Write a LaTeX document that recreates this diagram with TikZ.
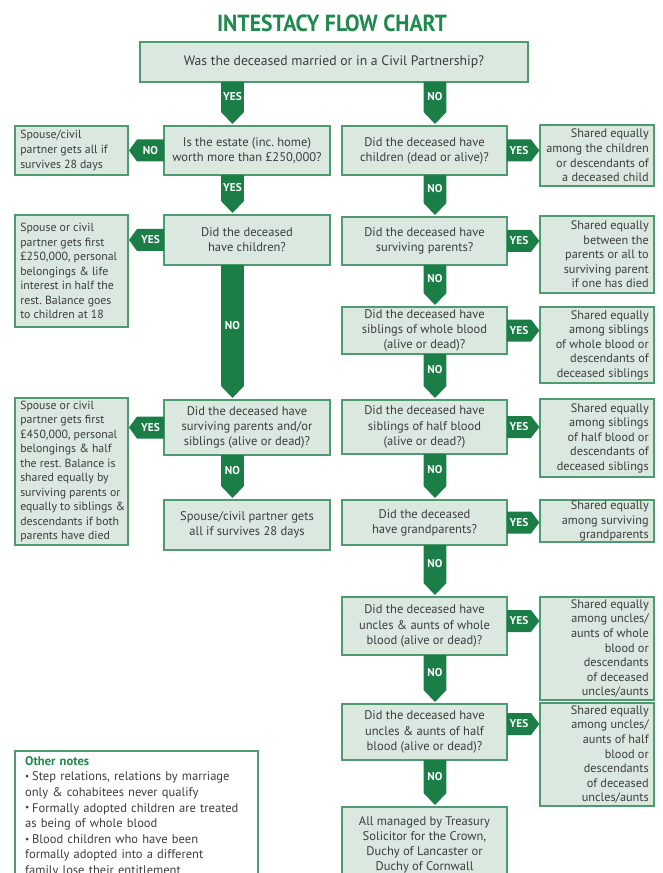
\documentclass[tikz,border=0pt]{standalone}
\usepackage{fontspec}
\setmainfont{PT Sans}
\usetikzlibrary{calc}
\definecolor{boxfill}{HTML}{DAE8DF}
\definecolor{boxline}{HTML}{4E9B70}
\definecolor{arrowc}{HTML}{1B7E47}
\definecolor{titlec}{HTML}{1F8A4D}
\definecolor{txt}{HTML}{3D3D3D}
\tikzset{
  box/.style={draw=boxline, fill=boxfill, line width=0.9pt, inner sep=0pt, outer sep=0pt},
  boxtext/.style={text=txt, inner sep=0pt},
  qfont/.style={font=\frenchspacing\fontsize{9.4}{11.3}\selectfont},
  afont/.style={font=\frenchspacing\fontsize{9.2}{10.9}\selectfont},
  lfont/.style={font=\frenchspacing\fontsize{8.85}{10.9}\selectfont},
  topfont/.style={font=\frenchspacing\fontsize{10.3}{12}\selectfont},
  lab/.style={text=white, inner sep=0pt, font=\bfseries\fontsize{8.5}{9}\selectfont},
  titlestyle/.style={text=titlec, inner sep=0pt, font=\bfseries\fontsize{17.5}{18}\selectfont},
  notesbox/.style={draw=boxline, fill=white, line width=0.9pt, inner xsep=7.5pt, inner ysep=4pt,
    outer sep=0pt, text=txt, font=\frenchspacing\fontsize{9.4}{11.7}\selectfont},
}
% \bx{name}{x0}{y0}{x1}{y1}{l|c|r}{font style}{text}
\newcommand{\bx}[8]{%
  \pgfmathsetmacro{\bxw}{(#4-#2)*0.75}%
  \pgfmathsetmacro{\bxh}{(#5-#3)*0.75}%
  \node[box, minimum width=\bxw pt, minimum height=\bxh pt]
    (#1) at ({(#2+#4)/2},{(#3+#5)/2}) {};
  \if l#6\node[boxtext, #7, align=left, anchor=west] (#1t) at ($(#1.west)+(5,0)$) {#8};\fi
  \if c#6\node[boxtext, #7, align=center] (#1t) at (#1.center) {#8};\fi
  \if r#6\node[boxtext, #7, align=right, anchor=east] (#1t) at ($(#1.east)+(-5,0)$) {#8};\fi}
\newcommand{\darr}[5]{%
  \fill[arrowc] let \p1=(#2.south -| #4), \p2=(#3.north -| #4) in
   (\x1-8.6pt,\y1) -- (\x1+8.6pt,\y1) -- (\x1+8.6pt,\y2+10.5pt) -- (\x1,\y2+1.5pt)
   -- (\x1-8.6pt,\y2+10.5pt) -- cycle
   (\x1,{(\y1+\y2+10.5pt)/2}) node[lab] (#1) {#5};}
\newcommand{\larr}[4]{%
  \fill[arrowc] let \p1=(#2.west), \p2=(#3.east) in
   (\x1,\y1+8.25pt) -- (\x2+6.75pt,\y1+8.25pt) -- (\x2+0.75pt,\y1) -- (\x2+6.75pt,\y1-8.25pt)
   -- (\x1,\y1-8.25pt) -- cycle
   ({(\x1+\x2+6.75pt)/2},\y1) node[lab] (#1) {#4};}
\newcommand{\rarr}[5]{%
  \fill[arrowc] let \p1=($(#2.east)+(0,#5)$), \p2=(#3.west) in
   (\x1,\y1+8.25pt) -- (\x2-6.75pt,\y1+8.25pt) -- (\x2-0.5pt,\y1) -- (\x2-6.75pt,\y1-8.25pt)
   -- (\x1,\y1-8.25pt) -- cycle
   ({(\x1+\x2-6.75pt)/2},\y1) node[lab] (#1) {#4};}
\newcommand{\nbul}{\hangindent=5.25pt\hangafter=1\makebox[5.25pt][l]{\raisebox{0.2ex}{\scriptsize\textbullet}}}
\begin{document}
\begin{tikzpicture}[x=0.75pt,y=-0.75pt]
\useasboundingbox (0,0) rectangle (662,873);
\clip (0,0) rectangle (662,873);
\fill[white] (0,0) rectangle (662,873);
\coordinate (colL) at (232.5,0);
\coordinate (colR) at (435,0);

\node[titlestyle] (title) at (332,23) {\scalebox{0.93}[1]{INTESTACY FLOW CHART}};

\bx{q0}{140}{42}{528}{82}{c}{topfont}{Was the deceased married or in a Civil Partnership?}
\bx{l1}{15}{126}{128}{175}{l}{lfont}{Spouse/civil\\partner gets all if\\survives 28 days}
\bx{c1}{164}{126}{330}{175}{c}{qfont}{Is the estate (inc. home)\\worth more than £250,000?}
\bx{r1}{342}{126}{507}{175}{c}{qfont}{Did the deceased have\\children (dead or alive)?}
\bx{rr1}{540}{125}{654}{186}{r}{afont}{Shared equally\\among the children\\or descendants of\\a deceased child}
\bx{l2}{15}{215}{128}{327}{l}{lfont}{Spouse or civil\\partner gets first\\£250,000, personal\\belongings \& life\\interest in half the\\rest. Balance goes\\to children at 18}
\bx{c2}{164}{215}{330}{265}{c}{qfont}{Did the deceased\\have children?}
\bx{r2}{342}{217}{507}{265}{c}{qfont}{Did the deceased have\\surviving parents?}
\bx{rr2}{540}{216}{654}{293}{r}{afont}{Shared equally\\between the\\parents or all to\\surviving parent\\if one has died}
\bx{r3}{342}{307}{507}{354}{c}{qfont}{Did the deceased have\\siblings of whole blood\\(alive or dead)?}
\bx{rr3}{540}{307}{654}{383}{r}{afont}{Shared equally\\among siblings\\of whole blood or\\descendants of\\deceased siblings}
\bx{l4}{15}{398}{128}{545}{l}{lfont}{Spouse or civil\\partner gets first\\£450,000, personal\\belongings \& half\\the rest. Balance is\\shared equally by\\surviving parents or\\equally to siblings \&\\descendants if both\\parents have died}
\bx{c4}{164}{400}{330}{455}{c}{qfont}{Did the deceased have\\surviving parents and/or\\siblings (alive or dead)?}
\bx{r4}{342}{400}{507}{454}{c}{qfont}{Did the deceased have\\siblings of half blood\\(alive or dead?)}
\bx{rr4}{540}{399}{654}{477}{r}{afont}{Shared equally\\among siblings\\of half blood or\\descendants of\\deceased siblings}
\bx{c5}{164}{500}{330}{550}{c}{qfont}{Spouse/civil partner gets\\all if survives 28 days}
\bx{r5}{342}{500}{507}{545}{c}{qfont}{Did the deceased\\have grandparents?}
\bx{rr5}{540}{500}{654}{542}{r}{afont}{Shared equally\\among surviving\\grandparents}
\bx{r6}{342}{597}{507}{655}{c}{qfont}{Did the deceased have\\uncles \& aunts of whole\\blood (alive or dead)?}
\bx{rr6}{540}{597}{654}{700}{r}{afont}{Shared equally\\among uncles/\\aunts of whole\\blood or\\descendants\\of deceased\\uncles/aunts}
\bx{r7}{342}{704}{507}{760}{c}{qfont}{Did the deceased have\\uncles \& aunts of half\\blood (alive or dead)?}
\bx{rr7}{540}{703}{654}{806}{r}{afont}{Shared equally\\among uncles/\\aunts of half\\blood or\\descendants\\of deceased\\uncles/aunts}
\bx{r8}{342}{807}{507}{882}{c}{qfont}{All managed by Treasury\\Solicitor for the Crown,\\Duchy of Lancaster or\\Duchy of Cornwall}

\node[notesbox, anchor=north west, minimum width=182.25pt, minimum height=97.5pt,
  text width=167pt, align=left] (notes) at (15,751) {%
  {\color{titlec}\bfseries Other notes}\par
  \nbul Step relations, relations by marriage\\only \& cohabitees never qualify\par
  \nbul Formally adopted children are treated\\as being of whole blood\par
  \nbul Blood children who have been\\formally adopted into a different\\family lose their entitlement\par
  \vspace*{8pt}};

\darr{a0}{q0}{c1}{colL}{YES}
\darr{a1}{q0}{r1}{colR}{NO}
\larr{a2}{c1}{l1}{NO}
\darr{a3}{c1}{c2}{colL}{YES}
\larr{a4}{c2}{l2}{YES}
\darr{a5}{c2}{c4}{colL}{NO}
\larr{a6}{c4}{l4}{YES}
\darr{a7}{c4}{c5}{colL}{NO}
\rarr{a8}{r1}{rr1}{YES}{0}
\darr{a9}{r1}{r2}{colR}{NO}
\rarr{a10}{r2}{rr2}{YES}{0}
\darr{a11}{r2}{r3}{colR}{NO}
\rarr{a12}{r3}{rr3}{YES}{0}
\darr{a13}{r3}{r4}{colR}{NO}
\rarr{a14}{r4}{rr4}{YES}{0}
\darr{a15}{r4}{r5}{colR}{NO}
\rarr{a16}{r5}{rr5}{YES}{0}
\darr{a17}{r5}{r6}{colR}{NO}
\rarr{a18}{r6}{rr6}{YES}{-5}
\darr{a19}{r6}{r7}{colR}{NO}
\rarr{a20}{r7}{rr7}{YES}{-8}
\darr{a21}{r7}{r8}{colR}{NO}
\end{tikzpicture}
\end{document}
